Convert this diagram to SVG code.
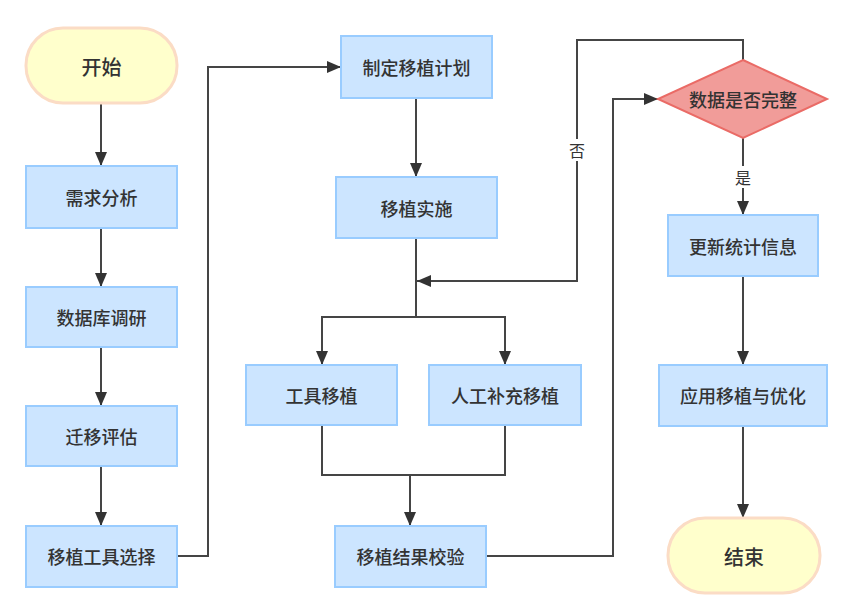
<svg xmlns="http://www.w3.org/2000/svg" width="867" height="613" viewBox="0 0 867 613">
<defs>
<marker id="arr" viewBox="0 0 14 12" refX="14" refY="6" markerWidth="14" markerHeight="12" markerUnits="userSpaceOnUse" orient="auto">
<path d="M0,0 L14,6 L0,12 z" fill="#333333"/>
</marker>
<style>
.box{fill:#CCE5FF;stroke:#99CCFF;stroke-width:2}
.term{fill:#FFFFCC;stroke:#FBDCC5;stroke-width:3}
.dia{fill:#F19C99;stroke:#EA6B66;stroke-width:2}
.t{font-family:"Noto Sans CJK SC","Noto Sans",sans-serif;font-size:18px;fill:#333333;text-anchor:middle;dominant-baseline:central;font-weight:500}
.tt{font-size:20px}
.lbl{font-family:"Noto Sans CJK SC","Noto Sans",sans-serif;font-size:16px;fill:#333333;text-anchor:middle;dominant-baseline:central}
.c{fill:none;stroke:#454545;stroke-width:2}
</style>
</defs>
<rect width="867" height="613" fill="#ffffff"/>
<g id="connectors">
<path class="c" d="M101,104 V166" marker-end="url(#arr)"/>
<path class="c" d="M101,228 V287" marker-end="url(#arr)"/>
<path class="c" d="M101,347 V406" marker-end="url(#arr)"/>
<path class="c" d="M101,466 V526" marker-end="url(#arr)"/>
<path class="c" d="M177,556 H208 V67 H341" marker-end="url(#arr)"/>
<path class="c" d="M416,98 V177" marker-end="url(#arr)"/>
<path class="c" d="M416,238 V317"/>
<path class="c" d="M416,317 H322 V365" marker-end="url(#arr)"/>
<path class="c" d="M416,317 H505 V365" marker-end="url(#arr)"/>
<path class="c" d="M322,425 V475 H505 V425"/>
<path class="c" d="M410,475 V526" marker-end="url(#arr)"/>
<path class="c" d="M486,556 H613 V99 H658" marker-end="url(#arr)"/>
<path class="c" d="M743,60 V40 H577 V281 H417" marker-end="url(#arr)"/>
<path class="c" d="M743,138 V215" marker-end="url(#arr)"/>
<path class="c" d="M743,276 V365" marker-end="url(#arr)"/>
<path class="c" d="M743,426 V518" marker-end="url(#arr)"/>
<rect x="567" y="139" width="20" height="22" fill="#ffffff"/>
<text class="lbl" x="577" y="150">否</text>
<rect x="733" y="166" width="20" height="22" fill="#ffffff"/>
<text class="lbl" x="743" y="177">是</text>
</g>
<g id="start"><rect class="term" x="26" y="28" width="151" height="75" rx="37" ry="37"/><text class="t tt" x="101.5" y="66">开始</text></g>
<g id="n1"><rect class="box" x="26" y="166" width="151" height="62"/><text class="t" x="101.5" y="197">需求分析</text></g>
<g id="n2"><rect class="box" x="26" y="287" width="151" height="60"/><text class="t" x="101.5" y="317">数据库调研</text></g>
<g id="n3"><rect class="box" x="26" y="406" width="151" height="60"/><text class="t" x="101.5" y="436">迁移评估</text></g>
<g id="n4"><rect class="box" x="26" y="526" width="151" height="61"/><text class="t" x="101.5" y="556">移植工具选择</text></g>
<g id="n5"><rect class="box" x="341" y="36" width="151" height="62"/><text class="t" x="416.5" y="67">制定移植计划</text></g>
<g id="n6"><rect class="box" x="336" y="177" width="161" height="61"/><text class="t" x="416.5" y="208">移植实施</text></g>
<g id="n7"><rect class="box" x="246" y="365" width="151" height="60"/><text class="t" x="321.5" y="395">工具移植</text></g>
<g id="n8"><rect class="box" x="429" y="365" width="152" height="60"/><text class="t" x="505" y="395">人工补充移植</text></g>
<g id="n9"><rect class="box" x="335" y="526" width="151" height="61"/><text class="t" x="410.5" y="556">移植结果校验</text></g>
<g id="d1"><polygon class="dia" points="743,60 827,99 743,138 658,99"/><text class="t" x="743" y="99">数据是否完整</text></g>
<g id="n10"><rect class="box" x="668" y="215" width="150" height="61"/><text class="t" x="743" y="246">更新统计信息</text></g>
<g id="n11"><rect class="box" x="659" y="365" width="168" height="61"/><text class="t" x="743" y="395">应用移植与优化</text></g>
<g id="end"><rect class="term" x="668" y="518" width="152" height="75" rx="37" ry="37"/><text class="t tt" x="744" y="556">结束</text></g>
</svg>
